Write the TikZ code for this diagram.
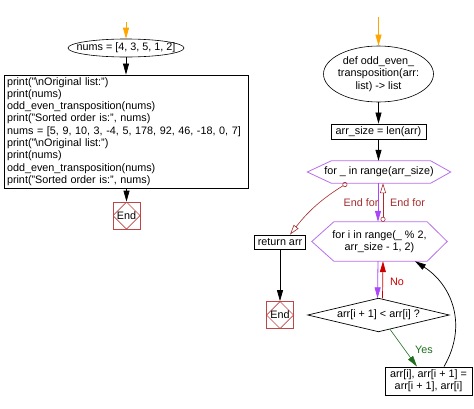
\documentclass[tikz,border=0pt]{standalone}
\usepackage{fontspec}
\setmainfont{Liberation Sans}
\usetikzlibrary{arrows.meta,shapes.geometric,calc}
\definecolor{orng}{RGB}{255,165,0}
\definecolor{hexc}{RGB}{185,110,235}
\definecolor{purp}{RGB}{170,70,250}
\definecolor{brn}{RGB}{165,45,45}
\definecolor{endred}{RGB}{190,70,70}
\definecolor{nored}{RGB}{205,0,0}
\definecolor{grn}{RGB}{30,110,30}
\tikzset{
  every node/.style={font=\fontsize{10.8}{12.3}\selectfont, inner sep=0pt},
  box/.style={draw=black, line width=0.8pt, rectangle, inner xsep=3pt, inner ysep=1pt},
  oval/.style={draw=black, line width=0.6pt, ellipse, inner sep=0pt},
  hexshape/.style={draw=hexc, line width=0.8pt},
  endbox/.style={draw=endred, line width=0.7pt, minimum width=27pt, minimum height=27pt,
    path picture={\draw[endred, line width=0.7pt] (path picture bounding box.north) -- (path picture bounding box.east) -- (path picture bounding box.south) -- (path picture bounding box.west) -- cycle;}},
  blk/.style={draw=black, line width=0.7pt, -{Triangle[length=11pt,width=6pt]}},
  orar/.style={draw=orng, line width=0.8pt, -{Triangle[length=11pt,width=6pt]}},
  purar/.style={draw=purp, line width=0.8pt, -{Triangle[length=11pt,width=6pt]}},
  brnar/.style={draw=brn, line width=0.6pt, {Circle[open,length=5pt,width=5pt]}-{Triangle[open,length=10pt,width=6pt]}},
  noar/.style={draw=nored, line width=0.7pt, -{Triangle[length=11pt,width=6pt]}},
  yesar/.style={draw=grn, line width=0.6pt, -{Triangle[length=11pt,width=6pt]}},
  lbl/.style={font=\fontsize{10.8}{12.3}\selectfont},
}
\begin{document}
\begin{tikzpicture}[x=1pt,y=-1pt]
\useasboundingbox (0,0) rectangle (474,408);

% ---------- left column ----------
\node[oval, minimum width=116pt, minimum height=18pt] (e1) at (126,48) {};
\node (e1t) at (e1.center) {nums = [4, 3, 5, 1, 2]};
\node[box, align=left, text width=238pt, minimum height=113pt] (b1) at (126,131.5) {%
print("\textbackslash nOriginal list:")\\
print(nums)\\
odd\_even\_transposition(nums)\\
print("Sorted order is:", nums)\\
\mbox{nums = [5, 9, 10, 3, -4, 5, 178, 92, 46, -18, 0, 7]}\\
print("\textbackslash nOriginal list:")\\
print(nums)\\
odd\_even\_transposition(nums)\\
print("Sorted order is:", nums)};
\node[endbox] (end1) at (126.5,215.5) {End};

\coordinate (s1) at (126,22);
\draw[orar] (s1) -- (e1.north);
\draw[blk] (e1.south) -- (b1.north);
\draw[blk] (b1.south -| end1.north) -- (end1.north);

% ---------- right column ----------
\node[oval, minimum width=110pt, minimum height=56pt] (e2) at (378.5,74) {};
\node[align=center] (e2t) at (e2.center) {def odd\_even\_\\transposition(arr:\\list) -> list};
\node[box, minimum width=95pt, minimum height=15pt] (a1) at (378.5,131.5) {arr\_size = len(arr)};

\node[minimum width=143pt, minimum height=22pt] (h1) at (379,172) {for \_ in range(arr\_size)};
\draw[hexshape] (h1.west) -- ([xshift=24pt]h1.north west) -- ([xshift=-20pt]h1.north east) -- (h1.east) -- ([xshift=-20pt]h1.south east) -- ([xshift=24pt]h1.south west) -- cycle;

\node[minimum width=135pt, minimum height=39pt, align=center] (h2) at (379.5,241.5) {for i in range(\_ \% 2,\\arr\_size - 1, 2)};
\draw[hexshape] (h2.west) -- ([xshift=22pt]h2.north west) -- ([xshift=-20pt]h2.north east) -- (h2.east) -- ([xshift=-20pt]h2.south east) -- ([xshift=22pt]h2.south west) -- cycle;

\node[box, minimum width=51pt, minimum height=14pt] (r) at (280,242) {return arr};
\node[endbox] (end2) at (280,315) {End};

\node[minimum width=141pt, minimum height=33pt] (d) at (378.5,315) {arr[i + 1] < arr[i] ?};
\draw[draw=black, line width=0.7pt] (d.north) -- (d.east) -- (d.south) -- (d.west) -- cycle;

\node[box, minimum width=87pt, minimum height=28pt, align=center] (sw) at (428.5,381) {arr[i], arr[i + 1] =\\arr[i + 1], arr[i]};

\coordinate (s2) at (378.5,17);
\draw[orar] (s2) -- (e2.north);
\draw[blk] (e2.south) -- (a1.north);
\draw[blk] (a1.south) -- (a1.south |- h1.north);

\draw[purar] ([xshift=-1pt]h1.south) -- ([xshift=-1.5pt]h2.north);
\draw[brnar] ([xshift=3.5pt]h2.north) -- ([xshift=4pt]h1.south);
\draw[brnar] ([xshift=-32pt]h1.south) to[bend right=10] ([xshift=10pt]r.north);
\draw[blk] (r.south) -- (end2.north);

\draw[purar] ([xshift=-1.5pt]h2.south) -- ([xshift=-1pt]d.north);
\draw[noar] ([xshift=4pt]d.north) -- ([xshift=3.5pt]h2.south);
\draw[yesar] ($(d.south)!0.16!(d.east)$) -- ([xshift=-11.5pt]sw.north);
\draw[blk] ([xshift=15.5pt]sw.north) .. controls (468,325) and (452,285) .. ([xshift=35.5pt]h2.south);

\node[lbl, text=brn] (lf1) at (361,203) {End for};
\node[lbl, text=brn] (lf2) at (407.5,203) {End for};
\node[lbl, text=nored] (lno) at (397,282) {No};
\node[lbl, text=grn] (lyes) at (424,350) {Yes};
\end{tikzpicture}
\end{document}
